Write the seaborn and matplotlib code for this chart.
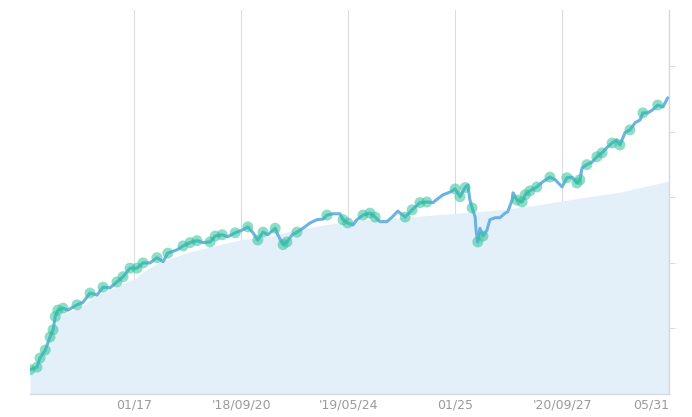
import matplotlib.pyplot as plt
import seaborn as sns
import pandas as pd

# ----------------------------
# Data
# ----------------------------
start = pd.Timestamp("2017-05-22")

# days since start / portfolio value
days = [0, 16, 23, 35, 46, 53, 58, 64, 76, 87, 108, 122, 138, 154, 168, 184, 200, 214,
        230, 246, 260, 276, 292, 306, 317, 338, 352, 368, 384, 398, 414, 426, 442, 455,
        472, 488, 501, 513, 524, 536, 547, 564, 570, 582, 591, 603, 614, 628, 644, 660,
        674, 683, 697, 713, 720, 731, 743, 752, 766, 782, 794, 805, 821, 833, 846, 863,
        879, 897, 913, 927, 938, 950, 966, 978, 989, 1001, 1007, 1012, 1017, 1024, 1026,
        1030, 1035, 1042, 1051, 1058, 1070, 1081, 1093, 1099, 1109, 1111, 1120, 1132,
        1139, 1150, 1166, 1180, 1196, 1208, 1224, 1235, 1247, 1258, 1265, 1270, 1281,
        1293, 1304, 1316, 1327, 1339, 1350, 1357, 1369, 1380, 1392, 1403, 1410, 1421,
        1433, 1444, 1456, 1467]
value = [37, 41, 55, 67, 87, 98, 118, 128, 131, 128, 136, 140, 154, 151, 163, 162, 171, 179,
         192, 192, 200, 200, 208, 202, 215, 220, 226, 231, 234, 231, 232, 241, 243, 240,
         246, 250, 255, 246, 235, 247, 243, 253, 243, 228, 232, 243, 247, 253, 261, 266,
         267, 273, 275, 275, 266, 261, 258, 266, 273, 276, 270, 263, 263, 270, 279, 270,
         281, 292, 293, 292, 298, 304, 308, 313, 301, 315, 319, 296, 284, 270, 250,
         232, 253, 241, 250, 266, 269, 269, 276, 278, 296, 307, 296, 293,
         304, 310, 316, 324, 331, 327, 316, 330, 331, 322, 327, 345, 350,
         354, 362, 368, 376, 383, 388, 380, 399, 403, 414, 418, 429, 429,
         434, 441, 438, 452]

# points where a trade marker is drawn (index into the series)
trades = [0, 1, 2, 3, 4, 5, 6, 7, 8, 10, 12, 14, 16, 17, 18, 19, 20, 22, 24, 26, 27, 28,
          30, 31, 32, 34, 36, 38, 39, 41, 43, 44, 46, 51, 54, 55, 58, 59, 60, 65, 66, 67,
          68, 73, 74, 75, 78, 81, 83, 92, 93, 94, 95, 96, 98, 101, 103, 104, 106, 108,
          109, 111, 113, 115, 118, 121]

# invested amount
inv_days = [0, 23, 41, 55, 69, 115, 143, 184, 219, 242, 265, 299, 368, 437, 483, 552,
            621, 736, 851, 966, 1081, 1173, 1265, 1357, 1470]
invested = [34, 49, 75, 105, 121, 131, 147, 159, 170, 176, 189, 202, 217, 228, 235, 241,
            252, 264, 269, 275, 281, 289, 299, 308, 325]

tick_dates = ["2018-01-17", "2018-09-20", "2019-05-24", "2020-01-25", "2020-09-27", "2021-05-31"]
tick_labels = ["01/17", "'18/09/20", "'19/05/24", "01/25", "'20/09/27", "05/31"]

df = pd.DataFrame({"date": start + pd.to_timedelta(days, unit="D"), "value": value})
inv = pd.DataFrame({"date": start + pd.to_timedelta(inv_days, unit="D"), "invested": invested})

# ----------------------------
# Plot
# ----------------------------
sns.set_style("white")
fig = plt.figure(figsize=(6.92, 4.17), dpi=100)
ax = fig.add_axes([0.0434, 0.0552, 0.9234, 0.9208])

ax.fill_between(inv["date"], 0, inv["invested"], color="#e3eff9", lw=0, zorder=1)
sns.lineplot(data=df, x="date", y="value", color="#6cb2e3", linewidth=2.2, ax=ax, zorder=3)
sns.scatterplot(data=df.iloc[trades], x="date", y="value", color="#2fc29a", alpha=0.55,
                s=62, edgecolor="none", ax=ax, zorder=4)

ax.set_xlim(start, pd.Timestamp("2021-05-31"))
ax.set_ylim(0, 586)

ax.set_xticks(pd.to_datetime(tick_dates))
ax.set_xticklabels(tick_labels)
for lbl in ax.get_xticklabels()[-1:]:
    lbl.set_ha("right")
ax.tick_params(axis="x", length=0, colors="#9a9a9a", labelsize=9, pad=3)
ax.grid(axis="x", color="#d9dde2", linewidth=0.8)

ax.yaxis.tick_right()
ax.set_yticks([100, 200, 300, 400, 500])
ax.set_yticklabels([])
ax.tick_params(axis="y", length=4, width=0.6, colors="#d5d5d5", direction="out")

ax.set_xlabel("")
ax.set_ylabel("")
for side in ["top", "left"]:
    ax.spines[side].set_visible(False)
for side in ["bottom", "right"]:
    ax.spines[side].set_color("#d5d8dc")
    ax.spines[side].set_linewidth(1.0)

fig.savefig("out.png", dpi=100)
plt.close()
